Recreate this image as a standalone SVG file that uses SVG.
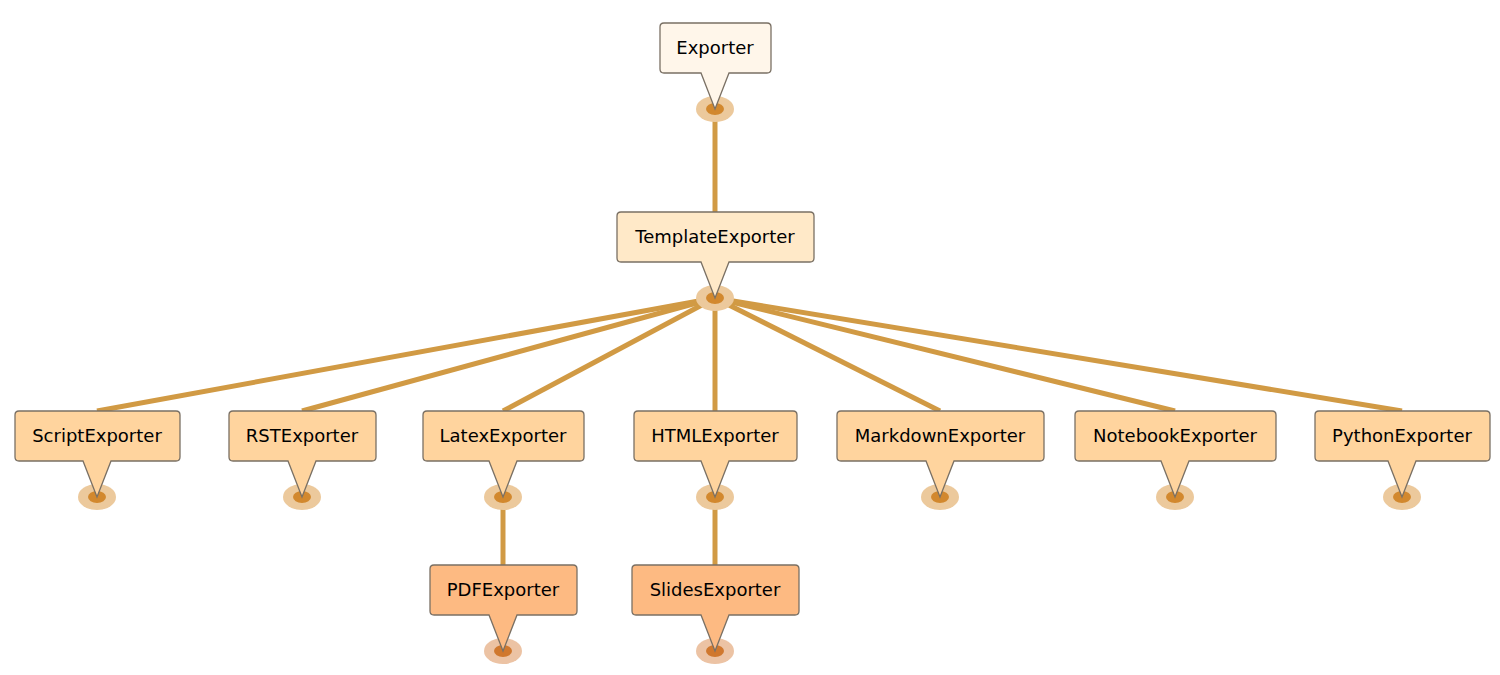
<svg xmlns="http://www.w3.org/2000/svg" width="1500" height="675" viewBox="0 0 1500 675">
<style>
.e{stroke:#d19a44;stroke-width:5;fill:none}
.n path{stroke:#7a7064;stroke-width:1.3}
.n text{font-family:"DejaVu Sans",sans-serif;font-size:18px;text-anchor:middle;fill:#000}
.o{fill:#ecc99c}.i{fill:#d2882e}
.o3{fill:#ecc3a4}.i3{fill:#d0782e}
</style>
<rect width="1500" height="675" fill="#fff"/>
<g id="connectors">
<line class="e" x1="715" y1="109" x2="715" y2="212"/>
<line class="e" x1="715" y1="298" x2="97" y2="411"/>
<line class="e" x1="715" y1="298" x2="302" y2="411"/>
<line class="e" x1="715" y1="298" x2="503" y2="411"/>
<line class="e" x1="715" y1="298" x2="715" y2="411"/>
<line class="e" x1="715" y1="298" x2="940" y2="411"/>
<line class="e" x1="715" y1="298" x2="1175" y2="411"/>
<line class="e" x1="715" y1="298" x2="1402" y2="411"/>
<line class="e" x1="503" y1="497" x2="503" y2="565"/>
<line class="e" x1="715" y1="497" x2="715" y2="565"/>
</g>
<g id="dots">
<ellipse class="o" cx="715" cy="109" rx="19" ry="13"/><ellipse class="i" cx="715" cy="109" rx="9" ry="6"/>
<ellipse class="o" cx="715" cy="298" rx="19" ry="13"/><ellipse class="i" cx="715" cy="298" rx="9" ry="6"/>
<ellipse class="o" cx="97" cy="497" rx="19" ry="13"/><ellipse class="i" cx="97" cy="497" rx="9" ry="6"/>
<ellipse class="o" cx="302" cy="497" rx="19" ry="13"/><ellipse class="i" cx="302" cy="497" rx="9" ry="6"/>
<ellipse class="o" cx="503" cy="497" rx="19" ry="13"/><ellipse class="i" cx="503" cy="497" rx="9" ry="6"/>
<ellipse class="o" cx="715" cy="497" rx="19" ry="13"/><ellipse class="i" cx="715" cy="497" rx="9" ry="6"/>
<ellipse class="o" cx="940" cy="497" rx="19" ry="13"/><ellipse class="i" cx="940" cy="497" rx="9" ry="6"/>
<ellipse class="o" cx="1175" cy="497" rx="19" ry="13"/><ellipse class="i" cx="1175" cy="497" rx="9" ry="6"/>
<ellipse class="o" cx="1402" cy="497" rx="19" ry="13"/><ellipse class="i" cx="1402" cy="497" rx="9" ry="6"/>
<ellipse class="o3" cx="503" cy="651" rx="19" ry="13"/><ellipse class="i3" cx="503" cy="651" rx="9" ry="6"/>
<ellipse class="o3" cx="715" cy="651" rx="19" ry="13"/><ellipse class="i3" cx="715" cy="651" rx="9" ry="6"/>
</g>
<g id="Exporter" class="n"><path fill="#fff6ea" d="M664,23H767Q771,23 771,27V69Q771,73 767,73H729L715,109L701,73H664Q660,73 660,69V27Q660,23 664,23Z"/><text x="715" y="54">Exporter</text></g>
<g id="TemplateExporter" class="n"><path fill="#ffe9c8" d="M621,212H810Q814,212 814,216V258Q814,262 810,262H729L715,298L701,262H621Q617,262 617,258V216Q617,212 621,212Z"/><text x="715" y="243">TemplateExporter</text></g>
<g id="ScriptExporter" class="n"><path fill="#ffd49e" d="M19,411H176Q180,411 180,415V457Q180,461 176,461H111L97,497L83,461H19Q15,461 15,457V415Q15,411 19,411Z"/><text x="97" y="442">ScriptExporter</text></g>
<g id="RSTExporter" class="n"><path fill="#ffd49e" d="M233,411H372Q376,411 376,415V457Q376,461 372,461H316L302,497L288,461H233Q229,461 229,457V415Q229,411 233,411Z"/><text x="302" y="442">RSTExporter</text></g>
<g id="LatexExporter" class="n"><path fill="#ffd49e" d="M427,411H580Q584,411 584,415V457Q584,461 580,461H517L503,497L489,461H427Q423,461 423,457V415Q423,411 427,411Z"/><text x="503" y="442">LatexExporter</text></g>
<g id="HTMLExporter" class="n"><path fill="#ffd49e" d="M638,411H793Q797,411 797,415V457Q797,461 793,461H729L715,497L701,461H638Q634,461 634,457V415Q634,411 638,411Z"/><text x="715" y="442">HTMLExporter</text></g>
<g id="MarkdownExporter" class="n"><path fill="#ffd49e" d="M841,411H1040Q1044,411 1044,415V457Q1044,461 1040,461H954L940,497L926,461H841Q837,461 837,457V415Q837,411 841,411Z"/><text x="940" y="442">MarkdownExporter</text></g>
<g id="NotebookExporter" class="n"><path fill="#ffd49e" d="M1079,411H1272Q1276,411 1276,415V457Q1276,461 1272,461H1189L1175,497L1161,461H1079Q1075,461 1075,457V415Q1075,411 1079,411Z"/><text x="1175" y="442">NotebookExporter</text></g>
<g id="PythonExporter" class="n"><path fill="#ffd49e" d="M1319,411H1486Q1490,411 1490,415V457Q1490,461 1486,461H1416L1402,497L1388,461H1319Q1315,461 1315,457V415Q1315,411 1319,411Z"/><text x="1402" y="442">PythonExporter</text></g>
<g id="PDFExporter" class="n"><path fill="#fdba82" d="M434,565H573Q577,565 577,569V611Q577,615 573,615H517L503,651L489,615H434Q430,615 430,611V569Q430,565 434,565Z"/><text x="503" y="596">PDFExporter</text></g>
<g id="SlidesExporter" class="n"><path fill="#fdba82" d="M636,565H795Q799,565 799,569V611Q799,615 795,615H729L715,651L701,615H636Q632,615 632,611V569Q632,565 636,565Z"/><text x="715" y="596">SlidesExporter</text></g>
</svg>
